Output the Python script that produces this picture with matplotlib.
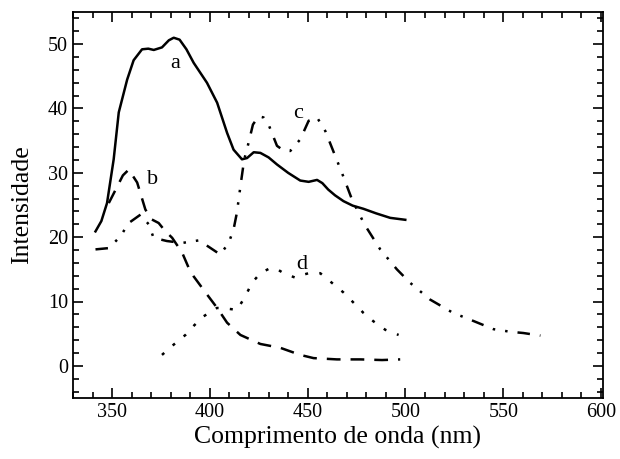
import matplotlib
matplotlib.use("Agg")
import matplotlib.pyplot as plt
from matplotlib.ticker import MultipleLocator

plt.rcParams["font.family"] = ["Liberation Serif", "DejaVu Serif"]

# curve a (solid)
a_x = [341.5, 344.5, 347.4, 350.8, 353.4, 357.7, 361.0, 365.3, 368.5, 371.3, 375.5,
       379.0, 381.5, 384.5, 388.0, 391.7, 398.5, 403.7, 408.8, 412.1, 416.4, 419.0,
       422.4, 425.8, 430.0, 434.3, 440.0, 446.2, 450.5, 454.8, 457.5, 460.5, 464.0,
       468.3, 473.0, 478.6, 485.0, 492.2, 499.9]
a_y = [20.9, 22.5, 25.3, 32.1, 39.4, 44.5, 47.5, 49.2, 49.3, 49.1, 49.5,
       50.6, 51.0, 50.7, 49.2, 47.1, 44.0, 40.9, 36.2, 33.6, 32.1, 32.3,
       33.2, 33.1, 32.4, 31.3, 30.0, 28.8, 28.6, 28.9, 28.4, 27.4, 26.5,
       25.6, 24.9, 24.4, 23.7, 23.0, 22.7]

# curve b (dashed)
b_x = [348.3, 352.0, 355.5, 358.5, 362.8, 367.0, 370.0, 373.8, 377.0, 380.7, 385.8,
       389.2, 391.7, 398.5, 403.7, 408.8, 415.6, 425.8, 436.0, 446.2, 453.0, 465.0,
       477.0, 488.0, 497.3]
b_y = [25.3, 27.5, 29.6, 30.5, 28.5, 24.3, 22.8, 22.2, 21.0, 19.9, 17.6,
       15.2, 13.9, 11.1, 9.0, 6.7, 4.8, 3.4, 2.8, 1.7, 1.2, 1.0,
       1.0, 0.9, 1.0]

# curve c (dash-dot-dot)
c_x = [341.5, 348.3, 354.2, 358.5, 364.5, 368.7, 371.2, 378.0, 385.8, 394.3, 399.4,
       405.3, 409.6, 412.1, 413.8, 415.6, 417.5, 419.8, 422.0, 424.9, 427.5, 430.0,
       434.3, 437.5, 441.1, 446.2, 450.5, 454.8, 459.0, 464.1, 467.5, 472.6, 479.0,
       487.1, 495.6, 502.4, 512.6, 524.5, 531.3, 545.0, 553.5, 560.3, 569.0]
c_y = [18.1, 18.3, 20.1, 22.2, 23.5, 22.0, 19.9, 19.4, 19.1, 19.5, 18.5,
       17.3, 19.1, 21.2, 23.8, 27.9, 32.0, 34.7, 37.5, 38.8, 38.6, 37.5,
       34.2, 33.5, 33.4, 35.2, 38.1, 38.6, 36.5, 32.6, 30.0, 25.9, 22.0,
       18.1, 15.0, 12.9, 10.3, 8.2, 7.4, 5.7, 5.3, 5.1, 4.7]

# curve d (dotted)
d_x = [375.5, 381.5, 387.5, 392.0, 396.8, 403.6, 408.5, 413.9, 418.1, 421.5, 425.8,
       430.9, 434.5, 437.7, 443.7, 447.0, 450.5, 456.4, 462.0, 468.3, 473.5, 478.6,
       483.7, 489.7, 496.5]
d_y = [1.7, 3.3, 4.8, 6.3, 7.7, 9.0, 8.9, 8.7, 10.8, 12.9, 14.4,
       15.2, 15.0, 14.4, 13.7, 14.1, 14.4, 14.4, 13.0, 11.4, 9.8, 8.2,
       6.9, 5.6, 4.8]

labels = {"a": (382, 47.0), "b": (370.5, 29.0), "c": (445, 39.3), "d": (447, 15.8)}

fig = plt.figure(figsize=(6.2, 4.59), dpi=100)
ax = fig.add_axes([73 / 620, 61 / 459, 530 / 620, 386 / 459])

lw = 1.8
ax.plot(a_x, a_y, color="black", linewidth=lw, linestyle="-")
ax.plot(b_x, b_y, color="black", linewidth=lw, linestyle=(0, (5.5, 4)))
ax.plot(c_x, c_y, color="black", linewidth=lw, linestyle=(0, (5, 4, 1, 4, 1, 4)))
ax.plot(d_x, d_y, color="black", linewidth=lw, linestyle=(0, (1.2, 4.5)))

for name, (x, y) in labels.items():
    ax.text(x, y, name, fontsize=16, ha="center", va="center")

ax.set_xlim(330, 601)
ax.set_ylim(-5, 55)
ax.xaxis.set_major_locator(MultipleLocator(50))
ax.xaxis.set_minor_locator(MultipleLocator(10))
ax.yaxis.set_major_locator(MultipleLocator(10))
ax.yaxis.set_minor_locator(MultipleLocator(2))
ax.tick_params(which="both", direction="in", top=True, right=True, width=1.2,
               labelsize=14.5)
ax.tick_params(which="major", length=7)
ax.tick_params(which="minor", length=4)
for s in ax.spines.values():
    s.set_linewidth(1.3)

ax.set_xlabel("Comprimento de onda (nm)", fontsize=18.5, labelpad=3)
ax.set_ylabel("Intensidade", fontsize=18.5, labelpad=11)

fig.savefig("out.png", dpi=100)
